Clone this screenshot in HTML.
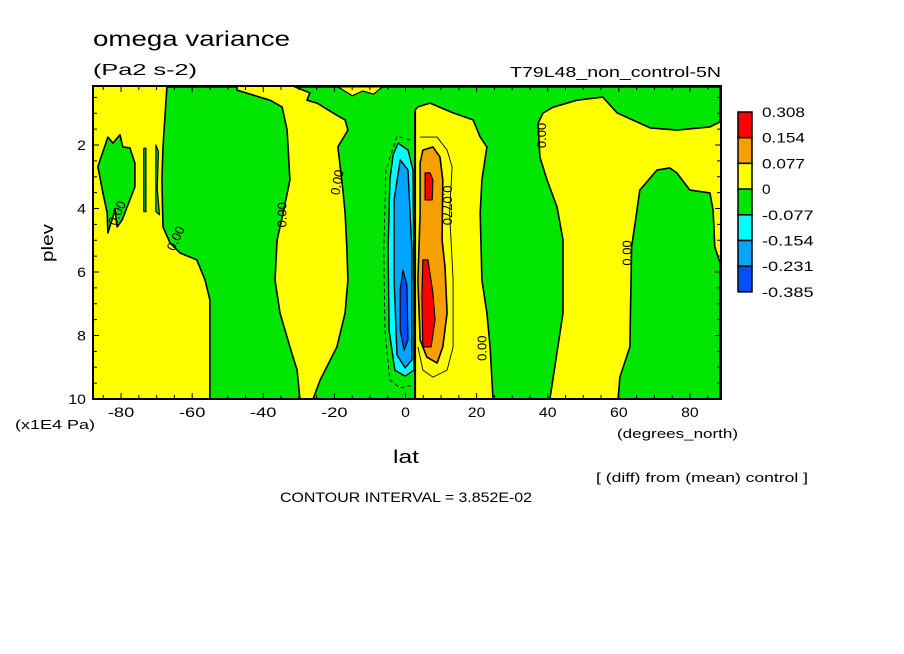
<!DOCTYPE html>
<html><head><meta charset="utf-8"><style>
html,body{margin:0;padding:0;background:#fff;width:904px;height:654px;overflow:hidden}
svg text{font-family:"Liberation Sans",sans-serif;fill:#000}
</style></head><body>
<svg id="chart" width="904" height="654" viewBox="0 0 904 654" xmlns="http://www.w3.org/2000/svg">
<rect x="0" y="0" width="904" height="654" fill="#fff"/>
<text x="93" y="46" font-size="21" textLength="197" lengthAdjust="spacingAndGlyphs">omega variance</text>
<text x="93" y="75" font-size="16" textLength="104" lengthAdjust="spacingAndGlyphs">(Pa2 s-2)</text>
<text x="510" y="77" font-size="15" textLength="211" lengthAdjust="spacingAndGlyphs">T79L48_non_control-5N</text>
<g id="plot"></g>
<g id="axes"></g>
<g id="legend"></g>
<text x="0" y="0" font-size="17" transform="translate(53,243) rotate(-90)" text-anchor="middle" textLength="38" lengthAdjust="spacingAndGlyphs">plev</text>
<text x="15" y="429" font-size="13" textLength="80" lengthAdjust="spacingAndGlyphs">(x1E4 Pa)</text>
<text x="617" y="438" font-size="13" textLength="121" lengthAdjust="spacingAndGlyphs">(degrees_north)</text>
<text x="393" y="463" font-size="18" textLength="26" lengthAdjust="spacingAndGlyphs">lat</text>
<text x="596" y="482" font-size="13" textLength="212" lengthAdjust="spacingAndGlyphs">[ (diff) from (mean) control ]</text>
<text x="280" y="502" font-size="14" textLength="252" lengthAdjust="spacingAndGlyphs">CONTOUR INTERVAL = 3.852E-02</text>
</svg>
<script>
// ---- data (lat, plev in 1E4 Pa) ----
const xTicks=[-80,-60,-40,-20,0,20,40,60,80];
const yTicks=[2,4,6,8,10];
const legendLevels=["0.308","0.154","0.077","0","-0.077","-0.154","-0.231","-0.385"];
const legendColors=["#ff0000","#f5a000","#ffff00","#00e600","#00ffff","#00a5ff","#0050ff"];
const greenMain=[[-31.1,0.17],[88.5,0.17],[88.5,1.27],[85.6,1.43],[76.4,1.53],[68.8,1.46],[59.5,0.99],[55.5,0.49],[48.2,0.59],[41.5,0.81],[38.7,0.99],[37.3,1.31],[37.8,2.38],[39.8,3.10],[42.6,3.95],[44.3,4.99],[44.3,7.29],[40.6,10],[24.6,10],[23.8,8.36],[22.9,7.29],[21.5,6.25],[21.0,4.14],[21.5,3.10],[22.9,2.06],[21.0,1.75],[19.0,1.21],[13.4,0.99],[6.9,0.68],[3.5,0.80],[2.7,0.90],[2.7,10],[-26.0,10],[-24.0,9.40],[-19.3,8.36],[-17.0,7.29],[-16.2,6.25],[-16.5,5.21],[-17.0,4.14],[-17.6,3.42],[-19.0,2.06],[-16.2,1.53],[-17.0,1.21],[-20.4,0.99],[-24.9,0.68],[-27.7,0.59],[-26.9,0.36]];
const greenWest=[[-67.1,0.17],[-47.4,0.17],[-47.4,0.27],[-38.1,0.59],[-34.7,0.80],[-33.3,1.53],[-32.5,3.10],[-34.4,4.14],[-36.1,4.99],[-36.7,6.25],[-35.3,7.29],[-32.5,8.36],[-30.5,9.09],[-29.7,10],[-55.0,10],[-55.0,6.88],[-56.4,6.25],[-58.7,5.62],[-63.4,5.40],[-66.2,5.09],[-68.2,4.58],[-68.5,3.10],[-68.2,2.06]];
const greenPolar=[[-85.9,2.47],[-83.7,1.75],[-82.3,1.94],[-80.3,1.68],[-79.5,2.06],[-77.5,2.09],[-76.1,2.57],[-76.1,3.32],[-77.5,3.73],[-79.7,4.36],[-81.1,4.58],[-81.7,4.05],[-83.7,4.77],[-83.9,4.14],[-85.1,3.51],[-86.5,2.69]];
const greenSliver1=[[-73.6,2.1],[-73.0,2.1],[-73.0,4.1],[-73.6,4.1]];
const greenSliver2=[[-70.2,2.0],[-69.5,2.2],[-69.8,3.4],[-69.2,4.2],[-70.2,4.1]];
const greenEast=[[59.8,10],[60.3,9.31],[63.1,8.36],[63.6,5.21],[65.0,4.14],[65.9,3.42],[70.7,2.79],[74.3,2.72],[76.3,2.88],[80.0,3.42],[85.6,3.51],[86.5,4.05],[87.0,5.21],[88.5,5.72],[88.5,10]];
const yellowTop=[[-19,0.17],[-6.5,0.17],[-9,0.4],[-12,0.3],[-15,0.45]];
const orangeBand=[[4.9,2.16],[7.7,2.06],[9.7,2.38],[10.5,3.10],[10.3,4.99],[11.1,5.84],[11.7,7.29],[10.5,8.36],[8.9,8.87],[6.0,8.68],[4.1,8.14],[3.5,6.25],[4.1,4.14],[4.1,2.57]];
const redUpper=[[5.5,2.88],[6.9,2.88],[7.7,3.10],[7.5,3.73],[5.5,3.73]];
const redLower=[[4.9,5.62],[6.3,5.62],[7.7,6.66],[8.3,7.51],[7.2,8.36],[4.9,8.36],[4.6,6.79]];
const cyanBand=[[-2.1,1.94],[0.7,2.16],[2.1,2.79],[2.4,6.88],[2.4,9.09],[-0.1,9.28],[-3.0,9.09],[-4.6,7.83],[-4.9,5.31],[-4.4,3.10],[-3.5,2.31]];
const lightBlueBand=[[-1.5,2.47],[0.7,2.79],[1.8,5.31],[1.8,8.77],[-0.1,9.02],[-2.4,8.61],[-3.2,6.25],[-3.2,3.73]];
const darkBlueBand=[[-0.7,5.94],[0.4,6.41],[0.7,8.14],[-0.4,8.46],[-1.5,7.83],[-1.5,6.57]];
const posContour=[[4.1,1.75],[8.9,1.75],[11.7,2.16],[13.1,2.69],[12.4,4.14],[13.4,6.25],[13.4,8.36],[11.7,9.09],[7.7,9.31],[4.9,9.09],[3.5,8.36]];
const negContour=[[1.3,1.84],[-2.4,1.72],[-5.5,2.79],[-6.1,5.31],[-5.8,7.83],[-4.4,9.40],[-1.5,9.65],[2.1,9.56]];
const zeroLabels=[[-80,4.2,-65],[-63.5,5.0,-65],[-33.5,4.2,-90],[-18,3.2,-80],[39.5,1.7,-90],[63.5,5.4,-90],[22.8,8.4,-90]];

// ---- scales ----
const X0=93,X1=721,Y0=86,Y1=399;
function xS(lat){return 405.5+lat*3.5556;}
function yS(p){return 399-(10-p)*31.75;}
const NS="http://www.w3.org/2000/svg";
const plot=document.getElementById('plot');
const axes=document.getElementById('axes');
const legend=document.getElementById('legend');
function mk(tag,attrs,parent){const e=document.createElementNS(NS,tag);for(const k in attrs)e.setAttribute(k,attrs[k]);parent.appendChild(e);return e;}
function pts(arr){return arr.map(d=>xS(d[0]).toFixed(1)+','+yS(d[1]).toFixed(1)).join(' ');}

const clip=mk('clipPath',{id:'pc'},plot);
mk('rect',{x:X0,y:Y0,width:X1-X0,height:Y1-Y0},clip);
const g=mk('g',{'clip-path':'url(#pc)'},plot);
const bg=mk('rect',{x:X0,y:Y0,width:X1-X0,height:Y1-Y0,fill:'#ffff00'},g);



function region(arr,fill,name,sw,stroke){
  const e=mk('polygon',{points:pts(arr),fill:fill,stroke:stroke||'#000','stroke-width':sw,'stroke-linejoin':'round'},g);
  
  
  return e;
}
region(greenMain,'#00e600','green-region-central',1.6);
region(greenWest,'#00e600','green-region-west',1.6);
region(greenPolar,'#00e600','green-region-polar',1.6);
region(greenSliver1,'#00e600','green-sliver-1',1.2);
region(greenSliver2,'#00e600','green-sliver-2',1.2);
region(greenEast,'#00e600','green-region-east',1.6);
region(yellowTop,'#ffff00','yellow-patch-top',1.2);
const pc=mk('polyline',{points:pts(posContour),fill:'none',stroke:'#000','stroke-width':0.9},g);


region(orangeBand,'#f5a000','orange-region',1.6);
region(redUpper,'#ff0000','red-region-upper',1.2);
region(redLower,'#ff0000','red-region-lower',1.2);
const nc=mk('polyline',{points:pts(negContour),fill:'none',stroke:'#000','stroke-width':0.9,'stroke-dasharray':'4,3'},g);


region(cyanBand,'#00ffff','cyan-region',1.4,'#000');
region(lightBlueBand,'#00a5ff','light-blue-region',1.4,'#000');
region(darkBlueBand,'#0050ff','dark-blue-region',1.2,'#000');
const vl=mk('line',{x1:xS(2.7),y1:yS(0.9),x2:xS(2.7),y2:Y1,stroke:'#000','stroke-width':2},g);


zeroLabels.forEach(d=>{
  const t=mk('text',{x:0,y:0,'font-size':13,'text-anchor':'middle',transform:`translate(${xS(d[0])},${yS(d[1])}) rotate(${d[2]})`},g);
  t.textContent='0.00';
  
  
});
const ol=mk('text',{x:0,y:0,'font-size':13,'text-anchor':'middle',transform:`translate(${xS(10.5)},${yS(3.9)}) rotate(90)`},g);
ol.textContent='0.0770';



// frame
const fr=mk('rect',{x:X0,y:Y0,width:X1-X0,height:Y1-Y0,fill:'none',stroke:'#000','stroke-width':2},axes);


for(let lat=-85;lat<=85;lat+=5){
  const x=xS(lat),L=(lat%20===0)?6:4;
  mk('line',{x1:x,y1:Y1,x2:x,y2:Y1-L,stroke:'#000','stroke-width':1},axes);
  mk('line',{x1:x,y1:Y0,x2:x,y2:Y0+L,stroke:'#000','stroke-width':1},axes);
}
for(let p=0.5;p<10;p+=0.5){
  const y=yS(p),L=(p%2===0)?6:4;
  mk('line',{x1:X0,y1:y,x2:X0+L,y2:y,stroke:'#000','stroke-width':1},axes);
  mk('line',{x1:X1,y1:y,x2:X1-L,y2:y,stroke:'#000','stroke-width':1},axes);
}
xTicks.forEach(v=>{
  const s=String(v);
  const t=mk('text',{x:xS(v),y:417,'font-size':14,'text-anchor':'middle',textLength:s.length*8.8,lengthAdjust:'spacingAndGlyphs'},axes);
  t.textContent=s;
  
  
});
yTicks.forEach(v=>{
  const s=String(v);
  const t=mk('text',{x:86,y:yS(v)+5,'font-size':14,'text-anchor':'end',textLength:s.length*8.8,lengthAdjust:'spacingAndGlyphs'},axes);
  t.textContent=s;
  
  
});
// legend
const LX=738,LY=112,LH=25.7;
legendColors.forEach((c,i)=>{
  const r=mk('rect',{x:LX,y:LY+i*LH,width:14,height:LH,fill:c,stroke:'#000','stroke-width':1.5},legend);
  
  
});
legendLevels.forEach((s,i)=>{
  const t=mk('text',{x:762,y:LY+i*LH+5,'font-size':14,textLength:s.length*8.6,lengthAdjust:'spacingAndGlyphs'},legend);
  t.textContent=s;
  
  
});
</script>
</body></html>
